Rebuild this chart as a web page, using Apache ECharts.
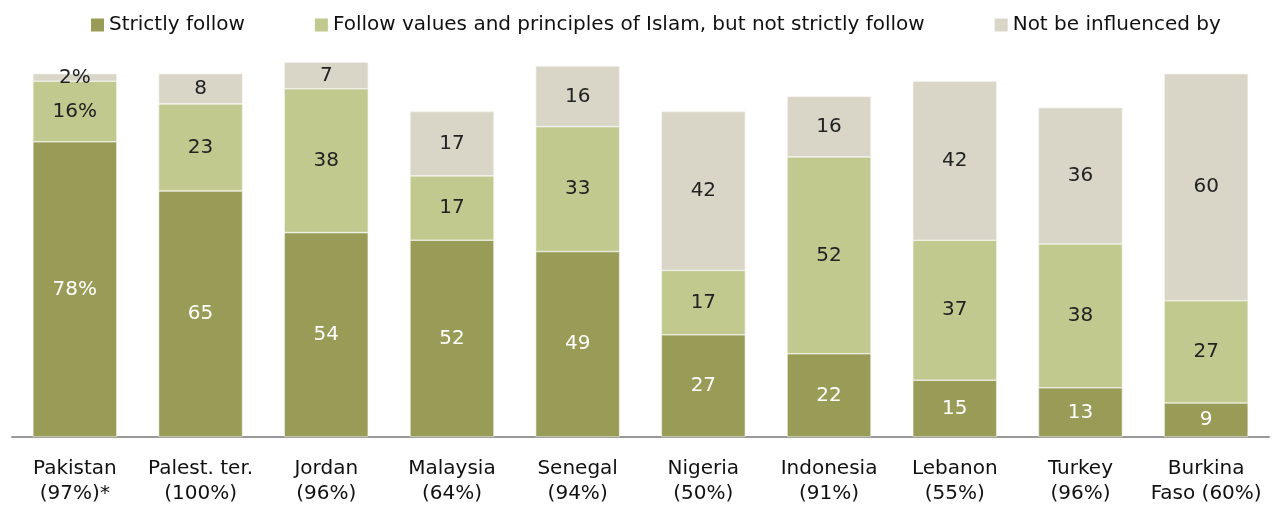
<!DOCTYPE html>
<html><head><meta charset="utf-8">
<script src="https://cdn.jsdelivr.net/npm/echarts@6/dist/echarts.min.js"></script>
<style>html,body{margin:0;padding:0;background:#fff}#c{width:1273px;height:506px}</style>
</head><body><div id="c"></div>
<script>
const categories = ["Pakistan\n(97%)*","Palest. ter.\n(100%)","Jordan\n(96%)","Malaysia\n(64%)","Senegal\n(94%)","Nigeria\n(50%)","Indonesia\n(91%)","Lebanon\n(55%)","Turkey\n(96%)","Burkina\nFaso (60%)"];
const strictly = [78,65,54,52,49,27,22,15,13,9];
const followValues = [16,23,38,17,33,17,52,37,38,27];
const notInfluenced = [2,8,7,17,16,42,16,42,36,60];
const seriesNames = ["Strictly follow","Follow values and principles of Islam, but not strictly follow","Not be influenced by"];
const colors = ["#989c56","#c1c98f","#d9d6c8"];
const FONT = "DejaVu Sans";
function fmt(p){ return p.dataIndex===0 ? p.value+'%' : String(p.value); }
function mk(name, data, color, labelColor){
  return {name, type:'bar', stack:'s', data, barWidth:84,
    itemStyle:{color, borderColor:'#f4f4ee', borderWidth:0.6},
    label:{show:true, position:'inside', color:labelColor, fontSize:20, fontFamily:FONT, formatter:fmt},
    emphasis:{disabled:true}};
}
const chart = echarts.init(document.getElementById('c'), null, {renderer:'canvas'});
chart.setOption({
  animation:false,
  legend:{top:10, left:86, itemWidth:13, itemHeight:13, itemGap:70, icon:'rect',
    itemStyle:{borderWidth:0},
    textStyle:{fontSize:20, fontFamily:FONT, color:'#111'}, data:seriesNames},
  grid:{left:12, right:4, top:58.5, bottom:68.5},
  xAxis:{type:'category', data:categories,
    axisLine:{lineStyle:{color:'#999', width:2}}, axisTick:{show:false},
    axisLabel:{fontSize:20, fontFamily:FONT, color:'#111', margin:19, lineHeight:25, interval:0}},
  yAxis:{type:'value', min:0, max:100, show:false, splitLine:{show:false}},
  series:[
    mk(seriesNames[0], strictly, colors[0], '#fff'),
    mk(seriesNames[1], followValues, colors[1], '#222'),
    mk(seriesNames[2], notInfluenced, colors[2], '#222')
  ]
});
</script></body></html>
